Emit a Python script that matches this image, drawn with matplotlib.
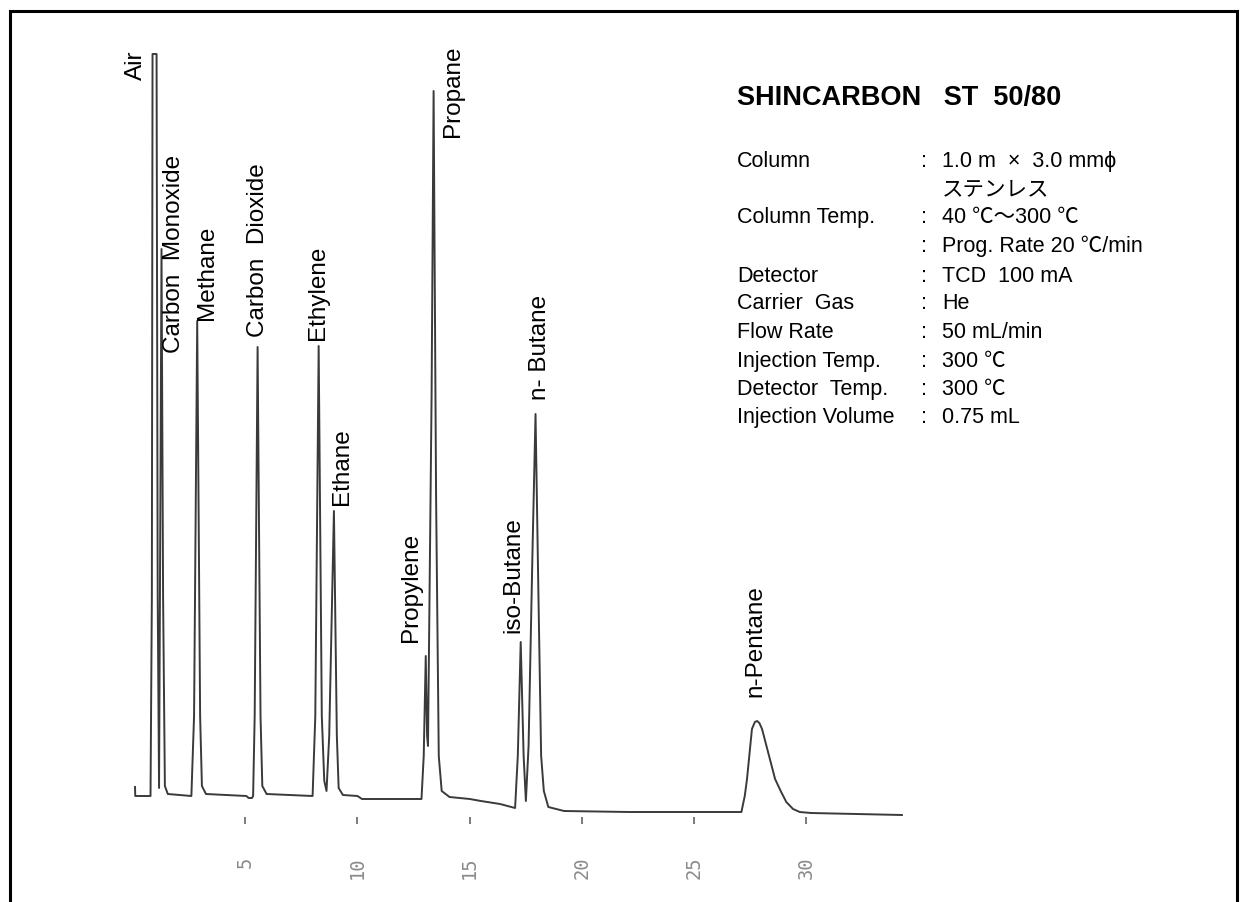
import matplotlib
matplotlib.use("Agg")
import matplotlib.pyplot as plt
from matplotlib.patches import Rectangle

plt.rcParams['font.family'] = ['Liberation Sans', 'Noto Sans CJK JP', 'DejaVu Sans']

# chromatogram trace: retention time (min), detector signal
trace_time = [0.09, 0.10, 0.78, 0.84, 0.87, 1.05, 1.10, 1.16, 1.20, 1.27, 1.34, 1.42, 1.55,
              2.60, 2.72, 2.86, 2.99, 3.07, 3.25, 5.05, 5.15, 5.30, 5.35, 5.42, 5.55, 5.68,
              5.76, 5.95, 8.00, 8.12, 8.27, 8.41, 8.52, 8.62, 8.74, 8.95, 9.08, 9.16, 9.35,
              10.00, 10.20, 12.85, 12.95, 13.04, 13.10, 13.14, 13.30, 13.39, 13.50, 13.62,
              13.75, 14.10, 15.00, 15.50, 16.35, 17.02, 17.14, 17.27, 17.40, 17.50, 17.62,
              17.80, 17.93, 18.06, 18.18, 18.30, 18.50, 19.20, 22.10, 27.10, 27.25, 27.35,
              27.57, 27.70, 27.80, 27.90, 28.02, 28.60, 28.85, 29.10, 29.40, 29.70, 30.20,
              34.25]
trace_signal = [9, 0, 0, 200, 742, 742, 200, 8, 200, 547, 200, 10, 2,
                0, 80, 475, 80, 10, 2, 0, -2, -2, 0, 80, 449, 80,
                10, 2, 0, 80, 450, 80, 15, 5, 60, 285, 60, 8, 1,
                0, -3, -3, 40, 140, 60, 50, 400, 705, 300, 40,
                5, -1, -3, -5, -8, -12, 40, 154, 40, -5, 50,
                250, 382, 200, 40, 5, -11, -15, -16, -16, 0, 17,
                67, 74, 75, 73, 67, 17, 5, -6, -13, -16, -17,
                -19]

peak_names = ["Air", "Carbon  Monoxide", "Methane", "Carbon  Dioxide", "Ethylene",
              "Ethane", "Propylene", "Propane", "iso-Butane", "n- Butane", "n-Pentane"]
peak_times = [0.96, 1.27, 2.86, 5.55, 8.27, 8.95, 13.04, 13.39, 17.27, 17.93, 27.80]
peak_heights = [742, 547, 475, 449, 450, 285, 140, 705, 154, 382, 75]

time_ticks = [5, 10, 15, 20, 25, 30]

title = "SHINCARBON   ST  50/80"
cond_labels = ["Column", "", "Column Temp.", "", "Detector", "Carrier  Gas", "Flow Rate",
               "Injection Temp.", "Detector  Temp.", "Injection Volume"]
cond_colons = [True, False, True, True, True, True, True, True, True, True]
cond_values = ["1.0 m  ×  3.0 mm\u03d5", "ステンレス", "40 ℃～300 ℃", "Prog. Rate 20 ℃/min",
               "TCD  100 mA", "He", "50 mL/min", "300 ℃", "300 ℃", "0.75 mL"]

# label placement (pixels from each apex)
label_dx = [-19, 12, 10, 0, -1, 8, -15, 19, -7, 4, -2]
label_dy = [-25, -103, 2, 11, 7, 7, 15, -45, 10, 15, 25]

W, H = 1245, 903
fig = plt.figure(figsize=(W / 100, H / 100), dpi=100)
ax = fig.add_axes([0, 0, 1, 1])
ax.set_xlim(-133 / 22.45, (W - 133) / 22.45)
ax.set_ylim(-106, 797)

ax.plot(trace_time, trace_signal, color='#3a3a3a', lw=1.4, solid_joinstyle='round')

for name, t, h, dx, dy in zip(peak_names, peak_times, peak_heights, label_dx, label_dy):
    ax.annotate(name, xy=(t, h), xytext=(dx, dy), textcoords='offset pixels',
                rotation=90, ha='center', va='bottom', fontsize=17.5, color='black')

for side in ['left', 'right', 'top']:
    ax.spines[side].set_visible(False)
ax.spines['bottom'].set_position(('data', -21))
ax.spines['bottom'].set_visible(False)
ax.set_yticks([])
ax.set_xticks(time_ticks)
ax.set_xticklabels([str(v) for v in time_ticks], rotation=90,
                   family='DejaVu Sans Mono', fontsize=13.5, color='#8a8a8a')
ax.tick_params(axis='x', direction='out', length=5, width=1.2, color='#666666', pad=23)

# outer frame (open at the bottom)
fig.add_artist(Rectangle((10 / W, -0.05), 1227 / W, 1 - 12 / H + 0.05,
                         transform=fig.transFigure, fill=False, lw=2.2, ec='black'))

def px(x, y):
    return x / W, 1 - y / H

fig.text(*px(737, 105), title, fontsize=19.5, fontweight='bold', va='baseline')
row_y = [166.7, 195, 223, 252, 282, 309, 338, 367, 395, 423]
for lab, colon, val, y in zip(cond_labels, cond_colons, cond_values, row_y):
    fig.text(*px(737, y), lab, fontsize=15.5, va='baseline')
    if colon:
        fig.text(*px(921, y), ":", fontsize=15.5, va='baseline')
    fig.text(*px(942, y), val, fontsize=15.5, va='baseline')

fig.savefig("out.png", dpi=100)
